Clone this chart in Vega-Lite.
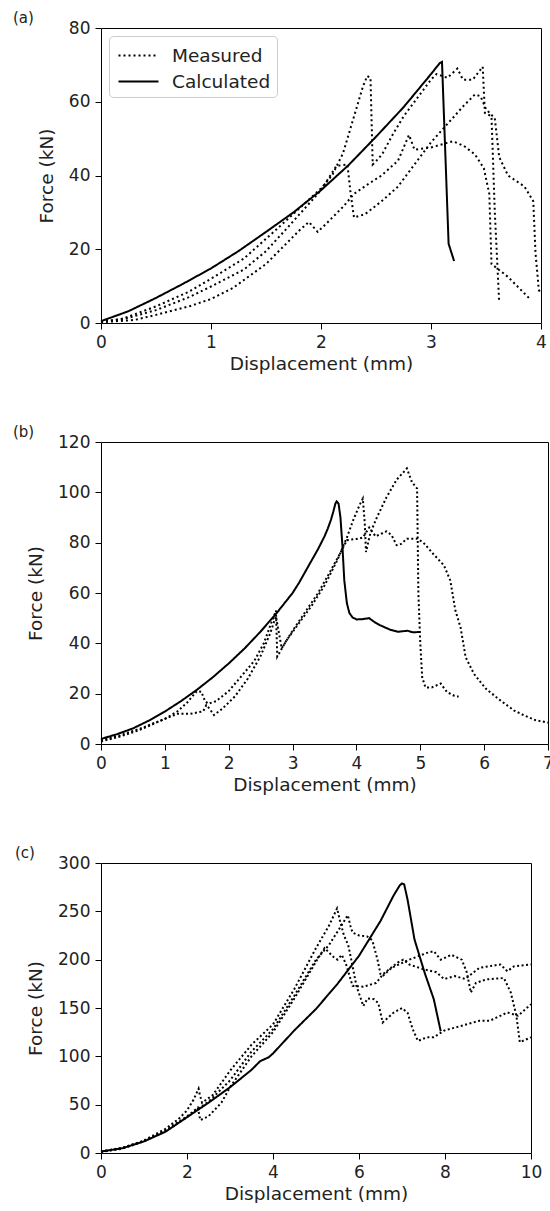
{
"$schema": "https://vega.github.io/schema/vega-lite/v6.json",
"padding": {"left": 12, "top": 10, "right": 0, "bottom": 0},
"background": "white",
"spacing": 51,
"columns": 1,
"align": "none",
"resolve": {"scale": {"strokeDash": "independent"}, "legend": {"strokeDash": "independent"}},
"config": {
  "font": "DejaVu Sans",
  "view": {"stroke": "#000", "strokeWidth": 1},
  "axis": {"grid": false, "domain": false, "tickColor": "#000", "tickSize": 6, "labelFontSize": 17, "labelColor": "#222", "titleFontSize": 18.5, "titleFontWeight": "normal", "titleColor": "#222", "labelPadding": 5, "labelFlush": false},
  "axisY": {"titlePadding": 12},
  "axisX": {"titlePadding": 4},
  "title": {"fontSize": 15, "fontWeight": "normal", "anchor": "start", "frame": "group", "dx": -88, "dy": 11, "offset": 0, "color": "#222"}
},
"datasets": {"d": [
{"p":"a","t":"Calculated","s":"c","x":0,"y":0.5},{"p":"a","t":"Calculated","s":"c","x":0.25,"y":3.2},{"p":"a","t":"Calculated","s":"c","x":0.5,"y":6.8},{"p":"a","t":"Calculated","s":"c","x":0.75,"y":10.7},{"p":"a","t":"Calculated","s":"c","x":1.0,"y":14.8},{"p":"a","t":"Calculated","s":"c","x":1.25,"y":19.5},{"p":"a","t":"Calculated","s":"c","x":1.5,"y":24.7},{"p":"a","t":"Calculated","s":"c","x":1.75,"y":30},{"p":"a","t":"Calculated","s":"c","x":2.0,"y":36},{"p":"a","t":"Calculated","s":"c","x":2.25,"y":42.8},{"p":"a","t":"Calculated","s":"c","x":2.5,"y":50.5},{"p":"a","t":"Calculated","s":"c","x":2.75,"y":58.5},{"p":"a","t":"Calculated","s":"c","x":3.0,"y":67.5},{"p":"a","t":"Calculated","s":"c","x":3.08,"y":70.5},{"p":"a","t":"Calculated","s":"c","x":3.1,"y":70.8},{"p":"a","t":"Calculated","s":"c","x":3.16,"y":21.5},{"p":"a","t":"Calculated","s":"c","x":3.21,"y":16.8},
{"p":"a","t":"Measured","s":"m1","x":0,"y":0.3},{"p":"a","t":"Measured","s":"m1","x":0.2,"y":1.2},{"p":"a","t":"Measured","s":"m1","x":0.5,"y":4.5},{"p":"a","t":"Measured","s":"m1","x":0.8,"y":8.5},{"p":"a","t":"Measured","s":"m1","x":1.0,"y":12},{"p":"a","t":"Measured","s":"m1","x":1.3,"y":17.5},{"p":"a","t":"Measured","s":"m1","x":1.6,"y":25.5},{"p":"a","t":"Measured","s":"m1","x":1.8,"y":31},{"p":"a","t":"Measured","s":"m1","x":2.0,"y":36.5},{"p":"a","t":"Measured","s":"m1","x":2.1,"y":40},{"p":"a","t":"Measured","s":"m1","x":2.2,"y":46},{"p":"a","t":"Measured","s":"m1","x":2.3,"y":56},{"p":"a","t":"Measured","s":"m1","x":2.38,"y":64},{"p":"a","t":"Measured","s":"m1","x":2.42,"y":67},{"p":"a","t":"Measured","s":"m1","x":2.45,"y":66.5},{"p":"a","t":"Measured","s":"m1","x":2.47,"y":43},{"p":"a","t":"Measured","s":"m1","x":2.52,"y":44.5},{"p":"a","t":"Measured","s":"m1","x":2.56,"y":46},{"p":"a","t":"Measured","s":"m1","x":2.65,"y":51},{"p":"a","t":"Measured","s":"m1","x":2.75,"y":56},{"p":"a","t":"Measured","s":"m1","x":2.9,"y":62},{"p":"a","t":"Measured","s":"m1","x":3.0,"y":66},{"p":"a","t":"Measured","s":"m1","x":3.05,"y":67.5},{"p":"a","t":"Measured","s":"m1","x":3.15,"y":66.5},{"p":"a","t":"Measured","s":"m1","x":3.24,"y":69},{"p":"a","t":"Measured","s":"m1","x":3.29,"y":66},{"p":"a","t":"Measured","s":"m1","x":3.38,"y":66},{"p":"a","t":"Measured","s":"m1","x":3.47,"y":69.5},{"p":"a","t":"Measured","s":"m1","x":3.49,"y":57},{"p":"a","t":"Measured","s":"m1","x":3.55,"y":56},{"p":"a","t":"Measured","s":"m1","x":3.58,"y":30},{"p":"a","t":"Measured","s":"m1","x":3.62,"y":5.5},
{"p":"a","t":"Measured","s":"m2","x":0,"y":0.3},{"p":"a","t":"Measured","s":"m2","x":0.2,"y":1},{"p":"a","t":"Measured","s":"m2","x":0.5,"y":3.5},{"p":"a","t":"Measured","s":"m2","x":0.8,"y":7},{"p":"a","t":"Measured","s":"m2","x":1.0,"y":9.9},{"p":"a","t":"Measured","s":"m2","x":1.3,"y":14.5},{"p":"a","t":"Measured","s":"m2","x":1.5,"y":19.5},{"p":"a","t":"Measured","s":"m2","x":1.7,"y":26},{"p":"a","t":"Measured","s":"m2","x":1.85,"y":31},{"p":"a","t":"Measured","s":"m2","x":2.0,"y":36},{"p":"a","t":"Measured","s":"m2","x":2.14,"y":42.6},{"p":"a","t":"Measured","s":"m2","x":2.24,"y":43},{"p":"a","t":"Measured","s":"m2","x":2.27,"y":35},{"p":"a","t":"Measured","s":"m2","x":2.3,"y":28.6},{"p":"a","t":"Measured","s":"m2","x":2.4,"y":29.5},{"p":"a","t":"Measured","s":"m2","x":2.55,"y":33},{"p":"a","t":"Measured","s":"m2","x":2.7,"y":37},{"p":"a","t":"Measured","s":"m2","x":2.85,"y":43},{"p":"a","t":"Measured","s":"m2","x":3.0,"y":49},{"p":"a","t":"Measured","s":"m2","x":3.15,"y":54},{"p":"a","t":"Measured","s":"m2","x":3.3,"y":59},{"p":"a","t":"Measured","s":"m2","x":3.4,"y":62},{"p":"a","t":"Measured","s":"m2","x":3.45,"y":61.5},{"p":"a","t":"Measured","s":"m2","x":3.5,"y":58},{"p":"a","t":"Measured","s":"m2","x":3.58,"y":55.5},{"p":"a","t":"Measured","s":"m2","x":3.62,"y":45},{"p":"a","t":"Measured","s":"m2","x":3.7,"y":40},{"p":"a","t":"Measured","s":"m2","x":3.85,"y":37},{"p":"a","t":"Measured","s":"m2","x":3.93,"y":33},{"p":"a","t":"Measured","s":"m2","x":3.95,"y":19},{"p":"a","t":"Measured","s":"m2","x":3.98,"y":9},{"p":"a","t":"Measured","s":"m2","x":4.0,"y":8},
{"p":"a","t":"Measured","s":"m3","x":0,"y":0.2},{"p":"a","t":"Measured","s":"m3","x":0.3,"y":0.8},{"p":"a","t":"Measured","s":"m3","x":0.5,"y":2.2},{"p":"a","t":"Measured","s":"m3","x":0.8,"y":4.5},{"p":"a","t":"Measured","s":"m3","x":1.0,"y":6.5},{"p":"a","t":"Measured","s":"m3","x":1.2,"y":9.5},{"p":"a","t":"Measured","s":"m3","x":1.5,"y":16},{"p":"a","t":"Measured","s":"m3","x":1.7,"y":22},{"p":"a","t":"Measured","s":"m3","x":1.8,"y":25},{"p":"a","t":"Measured","s":"m3","x":1.89,"y":27.4},{"p":"a","t":"Measured","s":"m3","x":1.97,"y":24.7},{"p":"a","t":"Measured","s":"m3","x":2.05,"y":27},{"p":"a","t":"Measured","s":"m3","x":2.2,"y":31.5},{"p":"a","t":"Measured","s":"m3","x":2.3,"y":35},{"p":"a","t":"Measured","s":"m3","x":2.42,"y":37.5},{"p":"a","t":"Measured","s":"m3","x":2.55,"y":40},{"p":"a","t":"Measured","s":"m3","x":2.7,"y":44},{"p":"a","t":"Measured","s":"m3","x":2.8,"y":51},{"p":"a","t":"Measured","s":"m3","x":2.85,"y":47},{"p":"a","t":"Measured","s":"m3","x":3.0,"y":47.6},{"p":"a","t":"Measured","s":"m3","x":3.2,"y":49.3},{"p":"a","t":"Measured","s":"m3","x":3.3,"y":48},{"p":"a","t":"Measured","s":"m3","x":3.4,"y":45.7},{"p":"a","t":"Measured","s":"m3","x":3.48,"y":42},{"p":"a","t":"Measured","s":"m3","x":3.53,"y":35},{"p":"a","t":"Measured","s":"m3","x":3.55,"y":16},{"p":"a","t":"Measured","s":"m3","x":3.7,"y":12.5},{"p":"a","t":"Measured","s":"m3","x":3.9,"y":6.5},
{"p":"b","t":"Calculated","s":"c","x":0,"y":2},{"p":"b","t":"Calculated","s":"c","x":0.25,"y":3.9},{"p":"b","t":"Calculated","s":"c","x":0.5,"y":6.2},{"p":"b","t":"Calculated","s":"c","x":0.75,"y":9.3},{"p":"b","t":"Calculated","s":"c","x":1,"y":12.9},{"p":"b","t":"Calculated","s":"c","x":1.25,"y":17},{"p":"b","t":"Calculated","s":"c","x":1.5,"y":21.5},{"p":"b","t":"Calculated","s":"c","x":1.75,"y":26.5},{"p":"b","t":"Calculated","s":"c","x":2,"y":32},{"p":"b","t":"Calculated","s":"c","x":2.25,"y":38},{"p":"b","t":"Calculated","s":"c","x":2.5,"y":44.7},{"p":"b","t":"Calculated","s":"c","x":2.75,"y":52},{"p":"b","t":"Calculated","s":"c","x":3,"y":60},{"p":"b","t":"Calculated","s":"c","x":3.1,"y":64},{"p":"b","t":"Calculated","s":"c","x":3.2,"y":68.5},{"p":"b","t":"Calculated","s":"c","x":3.3,"y":73},{"p":"b","t":"Calculated","s":"c","x":3.4,"y":77.5},{"p":"b","t":"Calculated","s":"c","x":3.5,"y":82.5},{"p":"b","t":"Calculated","s":"c","x":3.55,"y":85.5},{"p":"b","t":"Calculated","s":"c","x":3.6,"y":89},{"p":"b","t":"Calculated","s":"c","x":3.64,"y":92.5},{"p":"b","t":"Calculated","s":"c","x":3.67,"y":95.5},{"p":"b","t":"Calculated","s":"c","x":3.69,"y":96.4},{"p":"b","t":"Calculated","s":"c","x":3.72,"y":95.5},{"p":"b","t":"Calculated","s":"c","x":3.75,"y":90},{"p":"b","t":"Calculated","s":"c","x":3.78,"y":79},{"p":"b","t":"Calculated","s":"c","x":3.81,"y":65},{"p":"b","t":"Calculated","s":"c","x":3.85,"y":56},{"p":"b","t":"Calculated","s":"c","x":3.89,"y":52},{"p":"b","t":"Calculated","s":"c","x":3.94,"y":50.3},{"p":"b","t":"Calculated","s":"c","x":4.0,"y":49.5},{"p":"b","t":"Calculated","s":"c","x":4.09,"y":49.6},{"p":"b","t":"Calculated","s":"c","x":4.2,"y":50},{"p":"b","t":"Calculated","s":"c","x":4.28,"y":48.5},{"p":"b","t":"Calculated","s":"c","x":4.36,"y":47.3},{"p":"b","t":"Calculated","s":"c","x":4.53,"y":45.4},{"p":"b","t":"Calculated","s":"c","x":4.65,"y":44.6},{"p":"b","t":"Calculated","s":"c","x":4.8,"y":45},{"p":"b","t":"Calculated","s":"c","x":4.88,"y":44.4},{"p":"b","t":"Calculated","s":"c","x":5.0,"y":44.5},
{"p":"b","t":"Measured","s":"m1","x":0,"y":1.5},{"p":"b","t":"Measured","s":"m1","x":0.3,"y":3.5},{"p":"b","t":"Measured","s":"m1","x":0.6,"y":6},{"p":"b","t":"Measured","s":"m1","x":1.0,"y":10},{"p":"b","t":"Measured","s":"m1","x":1.2,"y":13},{"p":"b","t":"Measured","s":"m1","x":1.35,"y":16.5},{"p":"b","t":"Measured","s":"m1","x":1.5,"y":21},{"p":"b","t":"Measured","s":"m1","x":1.57,"y":20.8},{"p":"b","t":"Measured","s":"m1","x":1.63,"y":17},{"p":"b","t":"Measured","s":"m1","x":1.68,"y":16},{"p":"b","t":"Measured","s":"m1","x":1.8,"y":17},{"p":"b","t":"Measured","s":"m1","x":2.0,"y":21},{"p":"b","t":"Measured","s":"m1","x":2.2,"y":27},{"p":"b","t":"Measured","s":"m1","x":2.4,"y":33},{"p":"b","t":"Measured","s":"m1","x":2.55,"y":40},{"p":"b","t":"Measured","s":"m1","x":2.65,"y":47},{"p":"b","t":"Measured","s":"m1","x":2.74,"y":53},{"p":"b","t":"Measured","s":"m1","x":2.76,"y":34.7},{"p":"b","t":"Measured","s":"m1","x":2.9,"y":41},{"p":"b","t":"Measured","s":"m1","x":3.1,"y":48},{"p":"b","t":"Measured","s":"m1","x":3.3,"y":55},{"p":"b","t":"Measured","s":"m1","x":3.5,"y":63},{"p":"b","t":"Measured","s":"m1","x":3.7,"y":73},{"p":"b","t":"Measured","s":"m1","x":3.85,"y":82},{"p":"b","t":"Measured","s":"m1","x":3.95,"y":89},{"p":"b","t":"Measured","s":"m1","x":4.05,"y":95},{"p":"b","t":"Measured","s":"m1","x":4.1,"y":97.5},{"p":"b","t":"Measured","s":"m1","x":4.13,"y":88},{"p":"b","t":"Measured","s":"m1","x":4.15,"y":76.3},{"p":"b","t":"Measured","s":"m1","x":4.22,"y":84},{"p":"b","t":"Measured","s":"m1","x":4.32,"y":90},{"p":"b","t":"Measured","s":"m1","x":4.47,"y":98},{"p":"b","t":"Measured","s":"m1","x":4.63,"y":105},{"p":"b","t":"Measured","s":"m1","x":4.79,"y":109.5},{"p":"b","t":"Measured","s":"m1","x":4.87,"y":104},{"p":"b","t":"Measured","s":"m1","x":4.95,"y":101.5},{"p":"b","t":"Measured","s":"m1","x":4.97,"y":60},{"p":"b","t":"Measured","s":"m1","x":5.0,"y":40},{"p":"b","t":"Measured","s":"m1","x":5.03,"y":26.5},{"p":"b","t":"Measured","s":"m1","x":5.08,"y":22.5},{"p":"b","t":"Measured","s":"m1","x":5.18,"y":22.5},{"p":"b","t":"Measured","s":"m1","x":5.32,"y":24},{"p":"b","t":"Measured","s":"m1","x":5.42,"y":20.6},{"p":"b","t":"Measured","s":"m1","x":5.53,"y":19.2},{"p":"b","t":"Measured","s":"m1","x":5.6,"y":18.8},
{"p":"b","t":"Measured","s":"m2","x":0,"y":1},{"p":"b","t":"Measured","s":"m2","x":0.3,"y":3},{"p":"b","t":"Measured","s":"m2","x":0.6,"y":5.5},{"p":"b","t":"Measured","s":"m2","x":1.0,"y":10},{"p":"b","t":"Measured","s":"m2","x":1.2,"y":12},{"p":"b","t":"Measured","s":"m2","x":1.4,"y":12},{"p":"b","t":"Measured","s":"m2","x":1.6,"y":13},{"p":"b","t":"Measured","s":"m2","x":1.65,"y":15.5},{"p":"b","t":"Measured","s":"m2","x":1.7,"y":14},{"p":"b","t":"Measured","s":"m2","x":1.77,"y":11.5},{"p":"b","t":"Measured","s":"m2","x":1.9,"y":14},{"p":"b","t":"Measured","s":"m2","x":2.1,"y":19},{"p":"b","t":"Measured","s":"m2","x":2.3,"y":26},{"p":"b","t":"Measured","s":"m2","x":2.5,"y":35},{"p":"b","t":"Measured","s":"m2","x":2.65,"y":44},{"p":"b","t":"Measured","s":"m2","x":2.74,"y":50.8},{"p":"b","t":"Measured","s":"m2","x":2.78,"y":45},{"p":"b","t":"Measured","s":"m2","x":2.83,"y":38},{"p":"b","t":"Measured","s":"m2","x":3.0,"y":45},{"p":"b","t":"Measured","s":"m2","x":3.2,"y":52.5},{"p":"b","t":"Measured","s":"m2","x":3.4,"y":60},{"p":"b","t":"Measured","s":"m2","x":3.6,"y":69},{"p":"b","t":"Measured","s":"m2","x":3.75,"y":76},{"p":"b","t":"Measured","s":"m2","x":3.85,"y":81},{"p":"b","t":"Measured","s":"m2","x":4.0,"y":81.5},{"p":"b","t":"Measured","s":"m2","x":4.1,"y":82},{"p":"b","t":"Measured","s":"m2","x":4.2,"y":86},{"p":"b","t":"Measured","s":"m2","x":4.3,"y":82.5},{"p":"b","t":"Measured","s":"m2","x":4.47,"y":84.5},{"p":"b","t":"Measured","s":"m2","x":4.55,"y":83},{"p":"b","t":"Measured","s":"m2","x":4.63,"y":79},{"p":"b","t":"Measured","s":"m2","x":4.7,"y":79.5},{"p":"b","t":"Measured","s":"m2","x":4.79,"y":81.6},{"p":"b","t":"Measured","s":"m2","x":4.95,"y":81.6},{"p":"b","t":"Measured","s":"m2","x":5.05,"y":80},{"p":"b","t":"Measured","s":"m2","x":5.2,"y":75.6},{"p":"b","t":"Measured","s":"m2","x":5.37,"y":71},{"p":"b","t":"Measured","s":"m2","x":5.47,"y":65},{"p":"b","t":"Measured","s":"m2","x":5.55,"y":53},{"p":"b","t":"Measured","s":"m2","x":5.63,"y":46.4},{"p":"b","t":"Measured","s":"m2","x":5.71,"y":34.5},{"p":"b","t":"Measured","s":"m2","x":5.84,"y":27.9},{"p":"b","t":"Measured","s":"m2","x":6.03,"y":21.9},{"p":"b","t":"Measured","s":"m2","x":6.26,"y":17.2},{"p":"b","t":"Measured","s":"m2","x":6.47,"y":13.3},{"p":"b","t":"Measured","s":"m2","x":6.63,"y":11.3},{"p":"b","t":"Measured","s":"m2","x":6.8,"y":9.5},{"p":"b","t":"Measured","s":"m2","x":7.0,"y":8.5},
{"p":"c","t":"Calculated","s":"c","x":0,"y":1.5},{"p":"c","t":"Calculated","s":"c","x":0.5,"y":5},{"p":"c","t":"Calculated","s":"c","x":1,"y":12},{"p":"c","t":"Calculated","s":"c","x":1.5,"y":22},{"p":"c","t":"Calculated","s":"c","x":2,"y":37},{"p":"c","t":"Calculated","s":"c","x":2.5,"y":52},{"p":"c","t":"Calculated","s":"c","x":3,"y":68},{"p":"c","t":"Calculated","s":"c","x":3.5,"y":86},{"p":"c","t":"Calculated","s":"c","x":3.7,"y":95},{"p":"c","t":"Calculated","s":"c","x":3.8,"y":97},{"p":"c","t":"Calculated","s":"c","x":3.9,"y":99},{"p":"c","t":"Calculated","s":"c","x":4,"y":103},{"p":"c","t":"Calculated","s":"c","x":4.5,"y":127},{"p":"c","t":"Calculated","s":"c","x":5,"y":149},{"p":"c","t":"Calculated","s":"c","x":5.5,"y":175},{"p":"c","t":"Calculated","s":"c","x":6,"y":204},{"p":"c","t":"Calculated","s":"c","x":6.5,"y":240},{"p":"c","t":"Calculated","s":"c","x":6.8,"y":266},{"p":"c","t":"Calculated","s":"c","x":6.95,"y":277},{"p":"c","t":"Calculated","s":"c","x":7.0,"y":278.8},{"p":"c","t":"Calculated","s":"c","x":7.05,"y":278},{"p":"c","t":"Calculated","s":"c","x":7.13,"y":262},{"p":"c","t":"Calculated","s":"c","x":7.29,"y":221},{"p":"c","t":"Calculated","s":"c","x":7.53,"y":186},{"p":"c","t":"Calculated","s":"c","x":7.74,"y":159},{"p":"c","t":"Calculated","s":"c","x":7.9,"y":126},
{"p":"c","t":"Measured","s":"m1","x":0,"y":1.5},{"p":"c","t":"Measured","s":"m1","x":0.5,"y":5},{"p":"c","t":"Measured","s":"m1","x":1.0,"y":13},{"p":"c","t":"Measured","s":"m1","x":1.5,"y":25},{"p":"c","t":"Measured","s":"m1","x":1.8,"y":35},{"p":"c","t":"Measured","s":"m1","x":2.0,"y":44},{"p":"c","t":"Measured","s":"m1","x":2.15,"y":55},{"p":"c","t":"Measured","s":"m1","x":2.27,"y":66.5},{"p":"c","t":"Measured","s":"m1","x":2.3,"y":60},{"p":"c","t":"Measured","s":"m1","x":2.35,"y":52},{"p":"c","t":"Measured","s":"m1","x":2.6,"y":60},{"p":"c","t":"Measured","s":"m1","x":3.0,"y":85},{"p":"c","t":"Measured","s":"m1","x":3.5,"y":112},{"p":"c","t":"Measured","s":"m1","x":4.0,"y":133},{"p":"c","t":"Measured","s":"m1","x":4.5,"y":170},{"p":"c","t":"Measured","s":"m1","x":5.0,"y":212},{"p":"c","t":"Measured","s":"m1","x":5.3,"y":235},{"p":"c","t":"Measured","s":"m1","x":5.49,"y":253},{"p":"c","t":"Measured","s":"m1","x":5.56,"y":240},{"p":"c","t":"Measured","s":"m1","x":5.65,"y":225},{"p":"c","t":"Measured","s":"m1","x":5.75,"y":215},{"p":"c","t":"Measured","s":"m1","x":5.82,"y":200},{"p":"c","t":"Measured","s":"m1","x":5.94,"y":173},{"p":"c","t":"Measured","s":"m1","x":6.1,"y":152},{"p":"c","t":"Measured","s":"m1","x":6.2,"y":160},{"p":"c","t":"Measured","s":"m1","x":6.35,"y":159},{"p":"c","t":"Measured","s":"m1","x":6.45,"y":155},{"p":"c","t":"Measured","s":"m1","x":6.55,"y":135},{"p":"c","t":"Measured","s":"m1","x":6.8,"y":145},{"p":"c","t":"Measured","s":"m1","x":7.0,"y":150},{"p":"c","t":"Measured","s":"m1","x":7.13,"y":145},{"p":"c","t":"Measured","s":"m1","x":7.25,"y":128},{"p":"c","t":"Measured","s":"m1","x":7.37,"y":116},{"p":"c","t":"Measured","s":"m1","x":7.58,"y":119.7},{"p":"c","t":"Measured","s":"m1","x":7.74,"y":119.7},{"p":"c","t":"Measured","s":"m1","x":7.98,"y":126.6},{"p":"c","t":"Measured","s":"m1","x":8.39,"y":131.7},{"p":"c","t":"Measured","s":"m1","x":8.8,"y":136.8},{"p":"c","t":"Measured","s":"m1","x":9.04,"y":136.8},{"p":"c","t":"Measured","s":"m1","x":9.45,"y":145.4},{"p":"c","t":"Measured","s":"m1","x":9.7,"y":142},{"p":"c","t":"Measured","s":"m1","x":10,"y":154},
{"p":"c","t":"Measured","s":"m2","x":0,"y":1},{"p":"c","t":"Measured","s":"m2","x":0.5,"y":4.5},{"p":"c","t":"Measured","s":"m2","x":1.0,"y":12},{"p":"c","t":"Measured","s":"m2","x":1.5,"y":23},{"p":"c","t":"Measured","s":"m2","x":2.0,"y":38},{"p":"c","t":"Measured","s":"m2","x":2.3,"y":47},{"p":"c","t":"Measured","s":"m2","x":2.5,"y":53},{"p":"c","t":"Measured","s":"m2","x":3.0,"y":75},{"p":"c","t":"Measured","s":"m2","x":3.5,"y":105},{"p":"c","t":"Measured","s":"m2","x":4.0,"y":128},{"p":"c","t":"Measured","s":"m2","x":4.5,"y":163},{"p":"c","t":"Measured","s":"m2","x":5.0,"y":200},{"p":"c","t":"Measured","s":"m2","x":5.3,"y":215},{"p":"c","t":"Measured","s":"m2","x":5.6,"y":236},{"p":"c","t":"Measured","s":"m2","x":5.74,"y":246},{"p":"c","t":"Measured","s":"m2","x":5.8,"y":235},{"p":"c","t":"Measured","s":"m2","x":5.85,"y":228},{"p":"c","t":"Measured","s":"m2","x":6.0,"y":225},{"p":"c","t":"Measured","s":"m2","x":6.19,"y":224},{"p":"c","t":"Measured","s":"m2","x":6.31,"y":220},{"p":"c","t":"Measured","s":"m2","x":6.43,"y":200},{"p":"c","t":"Measured","s":"m2","x":6.5,"y":185},{"p":"c","t":"Measured","s":"m2","x":6.55,"y":183},{"p":"c","t":"Measured","s":"m2","x":6.76,"y":191.6},{"p":"c","t":"Measured","s":"m2","x":7.17,"y":200},{"p":"c","t":"Measured","s":"m2","x":7.58,"y":207},{"p":"c","t":"Measured","s":"m2","x":7.74,"y":208.7},{"p":"c","t":"Measured","s":"m2","x":7.9,"y":200},{"p":"c","t":"Measured","s":"m2","x":8.15,"y":205},{"p":"c","t":"Measured","s":"m2","x":8.39,"y":200},{"p":"c","t":"Measured","s":"m2","x":8.51,"y":186.5},{"p":"c","t":"Measured","s":"m2","x":8.6,"y":166},{"p":"c","t":"Measured","s":"m2","x":8.72,"y":176},{"p":"c","t":"Measured","s":"m2","x":8.96,"y":179.6},{"p":"c","t":"Measured","s":"m2","x":9.37,"y":181},{"p":"c","t":"Measured","s":"m2","x":9.53,"y":166},{"p":"c","t":"Measured","s":"m2","x":9.66,"y":142},{"p":"c","t":"Measured","s":"m2","x":9.74,"y":114.6},{"p":"c","t":"Measured","s":"m2","x":10,"y":119.7},
{"p":"c","t":"Measured","s":"m3","x":0,"y":1.5},{"p":"c","t":"Measured","s":"m3","x":0.5,"y":5.5},{"p":"c","t":"Measured","s":"m3","x":1.0,"y":12.5},{"p":"c","t":"Measured","s":"m3","x":1.5,"y":23},{"p":"c","t":"Measured","s":"m3","x":2.0,"y":37},{"p":"c","t":"Measured","s":"m3","x":2.25,"y":47},{"p":"c","t":"Measured","s":"m3","x":2.31,"y":34},{"p":"c","t":"Measured","s":"m3","x":2.5,"y":38},{"p":"c","t":"Measured","s":"m3","x":2.8,"y":52},{"p":"c","t":"Measured","s":"m3","x":3.0,"y":68},{"p":"c","t":"Measured","s":"m3","x":3.5,"y":100},{"p":"c","t":"Measured","s":"m3","x":4.0,"y":125},{"p":"c","t":"Measured","s":"m3","x":4.5,"y":160},{"p":"c","t":"Measured","s":"m3","x":5.0,"y":198},{"p":"c","t":"Measured","s":"m3","x":5.2,"y":212},{"p":"c","t":"Measured","s":"m3","x":5.4,"y":203},{"p":"c","t":"Measured","s":"m3","x":5.5,"y":200},{"p":"c","t":"Measured","s":"m3","x":5.6,"y":205},{"p":"c","t":"Measured","s":"m3","x":5.7,"y":195},{"p":"c","t":"Measured","s":"m3","x":5.85,"y":173},{"p":"c","t":"Measured","s":"m3","x":6.1,"y":172},{"p":"c","t":"Measured","s":"m3","x":6.4,"y":176},{"p":"c","t":"Measured","s":"m3","x":6.56,"y":185},{"p":"c","t":"Measured","s":"m3","x":6.9,"y":197},{"p":"c","t":"Measured","s":"m3","x":7.03,"y":200},{"p":"c","t":"Measured","s":"m3","x":7.17,"y":195},{"p":"c","t":"Measured","s":"m3","x":7.5,"y":190},{"p":"c","t":"Measured","s":"m3","x":7.8,"y":187},{"p":"c","t":"Measured","s":"m3","x":7.98,"y":180},{"p":"c","t":"Measured","s":"m3","x":8.23,"y":183},{"p":"c","t":"Measured","s":"m3","x":8.47,"y":180},{"p":"c","t":"Measured","s":"m3","x":8.8,"y":191.6},{"p":"c","t":"Measured","s":"m3","x":9.29,"y":195},{"p":"c","t":"Measured","s":"m3","x":9.45,"y":188},{"p":"c","t":"Measured","s":"m3","x":9.6,"y":193},{"p":"c","t":"Measured","s":"m3","x":10,"y":195}
]},
"concat": [
{
  "title": "(a)",
  "width": 440, "height": 295,
  "data": {"name": "d"},
  "transform": [{"filter": "datum.p === 'a'"}],
  "mark": {"type": "line", "strokeWidth": 2, "color": "#000"},
  "encoding": {
    "x": {"field": "x", "type": "quantitative", "scale": {"domain": [0, 4], "nice": false}, "axis": {"values": [0, 1, 2, 3, 4], "title": "Displacement (mm)"}},
    "y": {"field": "y", "type": "quantitative", "scale": {"domain": [0, 80], "nice": false}, "axis": {"values": [0, 20, 40, 60, 80], "title": "Force (kN)"}},
    "detail": {"field": "s"},
    "strokeDash": {"field": "t", "type": "nominal", "scale": {"domain": ["Measured", "Calculated"], "range": [[2, 3], [1, 0]]},
      "legend": {"title": null, "orient": "top-left", "offset": 8, "fillColor": "white", "strokeColor": "#ccc", "cornerRadius": 4, "padding": 6, "labelFontSize": 18.5, "labelColor": "#222", "symbolType": "M-1.6,0H1.6", "symbolSize": 625, "symbolStrokeWidth": 2, "symbolStrokeColor": "#000", "symbolOffset": 10, "rowPadding": 3, "labelOffset": 20}}
  }
},
{
  "title": "(b)",
  "width": 447, "height": 302,
  "data": {"name": "d"},
  "transform": [{"filter": "datum.p === 'b'"}],
  "mark": {"type": "line", "strokeWidth": 2, "color": "#000"},
  "encoding": {
    "x": {"field": "x", "type": "quantitative", "scale": {"domain": [0, 7], "nice": false}, "axis": {"values": [0, 1, 2, 3, 4, 5, 6, 7], "title": "Displacement (mm)"}},
    "y": {"field": "y", "type": "quantitative", "scale": {"domain": [0, 120], "nice": false}, "axis": {"values": [0, 20, 40, 60, 80, 100, 120], "title": "Force (kN)"}},
    "detail": {"field": "s"},
    "strokeDash": {"field": "t", "type": "nominal", "scale": {"domain": ["Measured", "Calculated"], "range": [[2, 2.5], [1, 0]]}, "legend": null}
  }
},
{
  "title": {"text": "(c)", "dx": -86},
  "width": 430, "height": 290,
  "data": {"name": "d"},
  "transform": [{"filter": "datum.p === 'c'"}],
  "mark": {"type": "line", "strokeWidth": 2, "color": "#000"},
  "encoding": {
    "x": {"field": "x", "type": "quantitative", "scale": {"domain": [0, 10], "nice": false}, "axis": {"values": [0, 2, 4, 6, 8, 10], "title": "Displacement (mm)"}},
    "y": {"field": "y", "type": "quantitative", "scale": {"domain": [0, 300], "nice": false}, "axis": {"values": [0, 50, 100, 150, 200, 250, 300], "title": "Force (kN)"}},
    "detail": {"field": "s"},
    "strokeDash": {"field": "t", "type": "nominal", "scale": {"domain": ["Measured", "Calculated"], "range": [[2, 2.5], [1, 0]]}, "legend": null}
  }
}
]
}
